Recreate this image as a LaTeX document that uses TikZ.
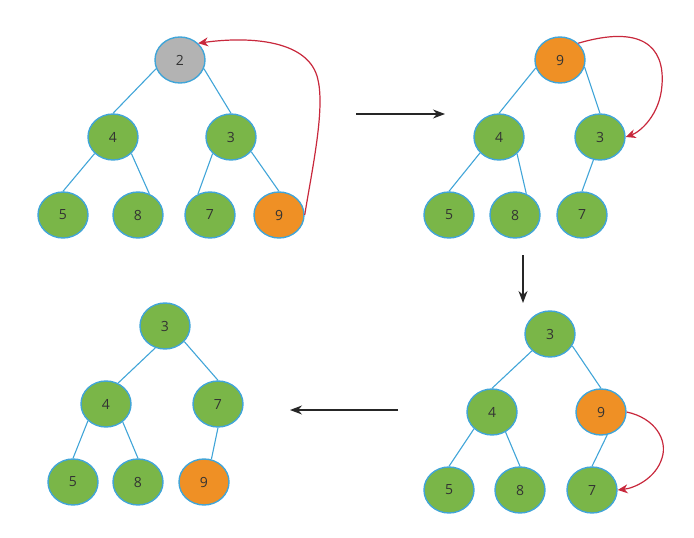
\documentclass[tikz,border=0pt]{standalone}
\usepackage{fontspec}
\setmainfont{Open Sans}
\usetikzlibrary{shapes.geometric,arrows.meta}
\definecolor{ngreen}{HTML}{7AB648}
\definecolor{nblue}{HTML}{41A5D8}
\definecolor{norange}{HTML}{EF9025}
\definecolor{ngray}{HTML}{B3B3B3}
\definecolor{nred}{HTML}{C8283C}
\definecolor{ntext}{HTML}{333333}
\tikzset{
  hnode/.style={ellipse, draw=nblue, line width=1.4pt, minimum width=50pt, minimum height=46pt, inner sep=0pt, text=ntext, font=\fontsize{14}{14}\selectfont},
  gn/.style={hnode, fill=ngreen},
  on/.style={hnode, fill=norange},
  grn/.style={hnode, fill=ngray},
  edge/.style={draw=nblue, line width=1.1pt},
  swap/.style={draw=nred, line width=1.2pt, -{Stealth[length=10pt,width=9pt]}},
  flow/.style={draw=black!85, line width=1.2pt, -{Stealth[length=12pt,width=9pt]}}
}
\begin{document}
\begin{tikzpicture}[x=1pt,y=-1pt]
\useasboundingbox (0,0) rectangle (694,538);
% tree 1
\node[grn] (a1) at (180,60) {2};
\node[gn] (a2) at (113,137) {4};
\node[gn] (a3) at (231,137) {3};
\node[gn] (a4) at (63,215) {5};
\node[gn] (a5) at (138,215) {8};
\node[gn] (a6) at (210,215) {7};
\node[on] (a7) at (279,215) {9};
\draw[edge] (a1.200) -- (a2.north);
\draw[edge] (a1.340) -- (a3.north);
\draw[edge] (a2.222) -- (a4.north);
\draw[edge] (a2.318) -- (a5.62);
\draw[edge] (a3.222) -- (a6.120);
\draw[edge] (a3.324) -- (a7.north);
\draw[swap] (a7.east) .. controls (312,170) and (325,110) .. (318,80) .. controls (310,40) and (250,36) .. (a1.north east);
% tree 2
\node[on] (b1) at (560,60) {9};
\node[gn] (b2) at (499,137) {4};
\node[gn] (b3) at (600,137) {3};
\node[gn] (b4) at (449,215) {5};
\node[gn] (b5) at (515,215) {8};
\node[gn] (b6) at (582,215) {7};
\draw[edge] (b1.198) -- (b2.north);
\draw[edge] (b1.344) -- (b3.north);
\draw[edge] (b2.220) -- (b4.north);
\draw[edge] (b2.317) -- (b5.62);
\draw[edge] (b3.254) -- (b6.north);
\draw[swap] (b1.north east) .. controls (640,25) and (665,45) .. (662,85) .. controls (660,115) and (640,132) .. (b3.east);
% tree 3
\node[gn] (c1) at (550,334) {3};
\node[gn] (c2) at (492,412) {4};
\node[on] (c3) at (601,412) {9};
\node[gn] (c4) at (449,490) {5};
\node[gn] (c5) at (520,490) {8};
\node[gn] (c6) at (592,490) {7};
\draw[edge] (c1.223) -- (c2.north);
\draw[edge] (c1.332) -- (c3.north);
\draw[edge] (c2.223) -- (c4.north);
\draw[edge] (c2.304) -- (c5.north);
\draw[edge] (c3.285) -- (c6.north);
\draw[swap] (c3.east) .. controls (655,418) and (668,440) .. (662,458) .. controls (656,478) and (635,488) .. (c6.east);
% tree 4
\node[gn] (d1) at (165,326) {3};
\node[gn] (d2) at (106,404) {4};
\node[gn] (d3) at (218,404) {7};
\node[gn] (d4) at (73,482) {5};
\node[gn] (d5) at (138,482) {8};
\node[on] (d6) at (204,482) {9};
\draw[edge] (d1.246) -- (d2.60);
\draw[edge] (d1.321) -- (d3.north);
\draw[edge] (d2.223) -- (d4.north);
\draw[edge] (d2.313) -- (d5.north);
\draw[edge] (d3.270) -- (d6.72);
% flow arrows
\coordinate (f1s) at (356,114);
\coordinate (f1e) at (445,114);
\coordinate (f2s) at (523,255);
\coordinate (f2e) at (523,303);
\coordinate (f3s) at (398,410);
\coordinate (f3e) at (290,410);
\draw[flow] (f1s) -- (f1e);
\draw[flow] (f2s) -- (f2e);
\draw[flow] (f3s) -- (f3e);
\end{tikzpicture}
\end{document}
